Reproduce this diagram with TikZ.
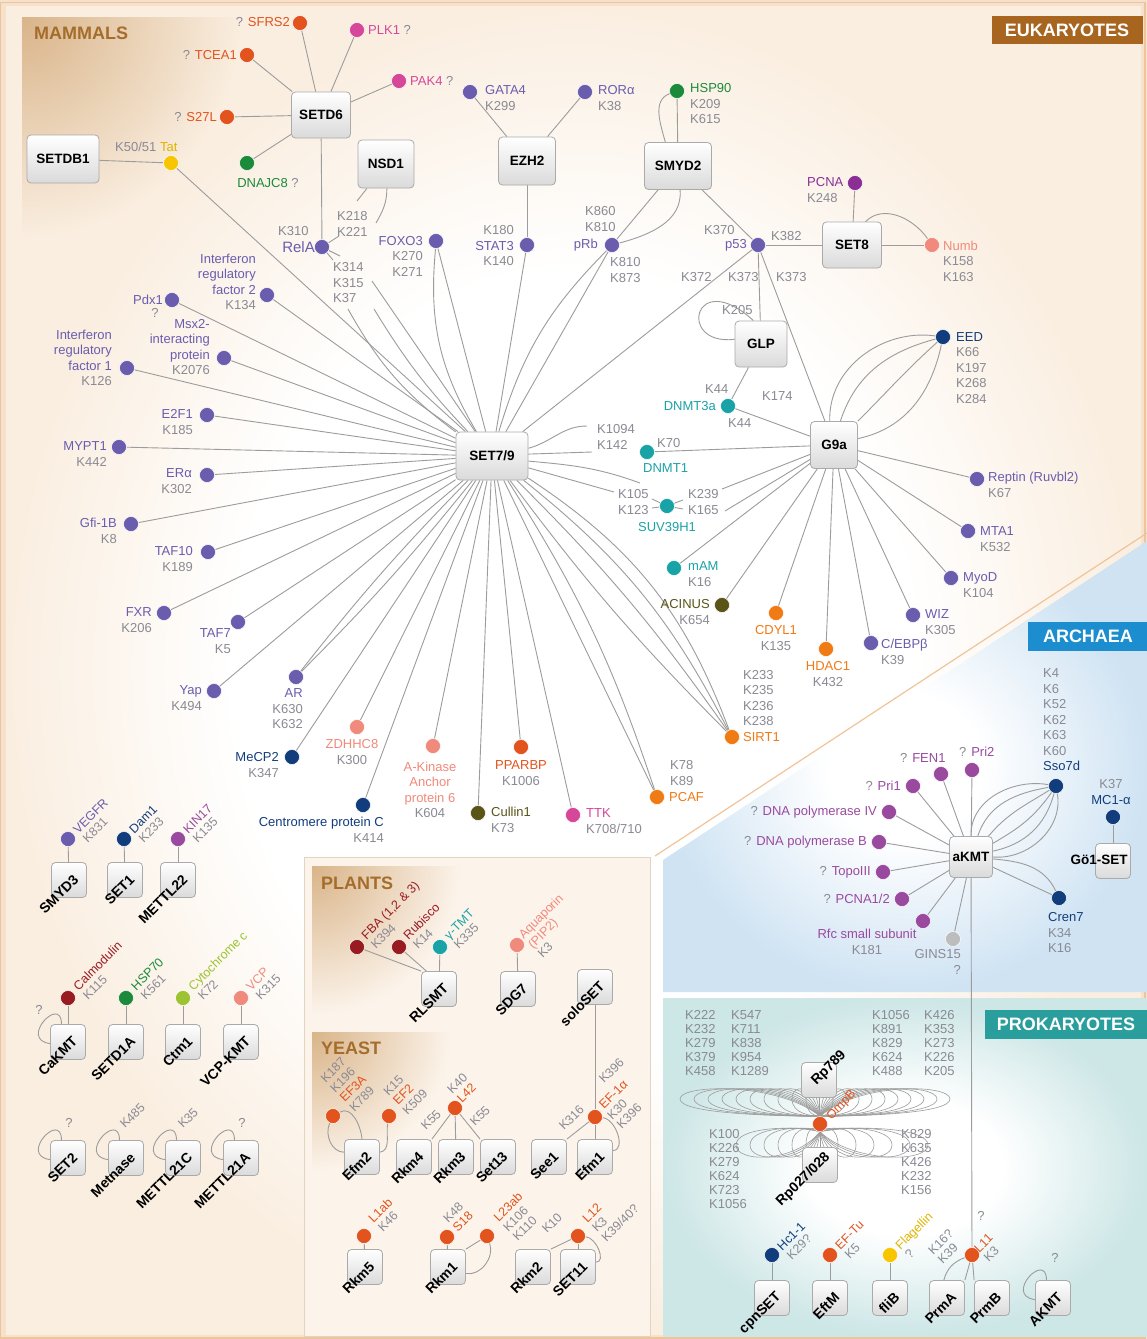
\documentclass[tikz,border=0pt]{standalone}
\usepackage{fontspec}
\setmainfont{Liberation Sans}
\usetikzlibrary{calc}
\pgfdeclarelayer{back}
\pgfdeclarelayer{edges}
\pgfsetlayers{back,edges,main}
\definecolor{bgpe}{HTML}{F6E2CC}
\definecolor{bgin}{HTML}{FAEEE0}
\definecolor{panelc}{HTML}{FCF4EB}
\definecolor{panelbd}{HTML}{E3D3C3}
\definecolor{hdrc}{HTML}{D9B489}
\definecolor{hdrtxt}{HTML}{A46D2C}
\definecolor{brn}{HTML}{A8651F}
\definecolor{ablue}{HTML}{1C8ECF}
\definecolor{pteal}{HTML}{2A9D9D}
\definecolor{edgec}{HTML}{9C9C9C}
\definecolor{kg}{HTML}{8A8A94}
\definecolor{bxd}{HTML}{AAAAAA}
\definecolor{bxf}{HTML}{DADADA}
\definecolor{purp}{HTML}{6A5DAE}
\definecolor{orred}{HTML}{E2531E}
\definecolor{orng}{HTML}{F07A14}
\definecolor{pinkc}{HTML}{D6479A}
\definecolor{grn}{HTML}{1B8A3A}
\definecolor{dblu}{HTML}{123D7D}
\definecolor{tealc}{HTML}{1AA3A6}
\definecolor{salm}{HTML}{F08A7C}
\definecolor{oliv}{HTML}{5A5418}
\definecolor{mag}{HTML}{9A4A9E}
\definecolor{pcnac}{HTML}{8A3095}
\definecolor{yel}{HTML}{F7C600}
\definecolor{yeltx}{HTML}{E0B400}
\definecolor{dred}{HTML}{981B22}
\definecolor{ygr}{HTML}{9DC232}
\definecolor{gdot}{HTML}{BDBDBD}
\definecolor{archc}{HTML}{CFE3F3}
\definecolor{prokc}{HTML}{CDE6E6}
\definecolor{orline}{HTML}{F0C49A}
\pgfdeclareradialshading{bgrad}{\pgfpoint{0bp}{0bp}}{color(0bp)=(white); color(15bp)=(white); color(25bp)=(bgin); color(50bp)=(bgin)}
\pgfdeclareradialshading{archs}{\pgfpoint{0bp}{0bp}}{color(0bp)=(white); color(8bp)=(white); color(25bp)=(archc); color(50bp)=(archc)}
\pgfdeclareradialshading{proks}{\pgfpoint{0bp}{0bp}}{color(0bp)=(white); color(10bp)=(white); color(25bp)=(prokc); color(50bp)=(prokc)}
\tikzset{
 every node/.style={font=\fontsize{13}{15.5}\selectfont, text=kg, inner sep=1pt},
 enz/.style={draw=bxd, line width=0.8pt, rounded corners=4pt, top color=white, bottom color=bxf, text=black, font=\bfseries\fontsize{13.5}{15}\selectfont, inner sep=0pt},
 sb/.style={enz, minimum width=35, minimum height=35},
 dt/.style={circle, fill=#1, draw=white, line width=0.5pt, minimum size=15pt, inner sep=0pt},
 ln/.style={draw=edgec, line width=0.9pt},
 lp/.style={draw=edgec, line width=0.6pt},
 rl/.style={rotate=45, anchor=west, align=left, inner sep=0pt, font=\fontsize{12.5}{13.5}\selectfont},
 bl/.style={rotate=45, anchor=east, text=black, font=\bfseries\fontsize{14}{16}\selectfont, inner sep=0pt},
 hd/.style={text=white, font=\bfseries\fontsize{18}{20}\selectfont, inner sep=0pt},
}
\begin{document}
\begin{tikzpicture}[x=1pt,y=-1pt]
\useasboundingbox (0,0) rectangle (1147,1339);

% ---------------- background ----------------
\begin{pgfonlayer}{back}
\fill[bgpe] (0,0) rectangle (1147,1339);
\shade[shading=bgrad] (6,6) rectangle (1141,1334);
\begin{scope}
\clip (22,17) rectangle (262,237);
\shade[inner color=hdrc, outer color=bgin] (22,17) circle (220pt);
\end{scope}
\draw[orline, line width=1.2pt] (0.6,2.5) rectangle (1145,1338);
% plants / yeast panel
\fill[panelc] (304,857) rectangle (650,1336);
\draw[panelbd, line width=0.8pt] (304,857) rectangle (650,1336);
\begin{scope}
\clip (312,866) rectangle (462,1016);
\shade[inner color=hdrc, outer color=panelc] (312,866) circle (150pt);
\end{scope}
\begin{scope}
\clip (312,1032) rectangle (452,1172);
\shade[inner color=hdrc, outer color=panelc] (312,1032) circle (140pt);
\end{scope}
% archaea
\shade[shading=archs] (663,860) -- (1147,541) -- (1147,992) -- (663,992) -- cycle;
\draw[orline, line width=1.2pt] (655,856) -- (1147,533);
% prokaryotes
\shade[shading=proks] (663,998) rectangle (1147,1336);
\end{pgfonlayer}

% ---------------- headers ----------------
\node[anchor=west, text=hdrtxt, font=\bfseries\fontsize{18}{20}\selectfont] (hm) at (33,33) {MAMMALS};
\node[hd, fill=brn, minimum width=151, minimum height=28] (heuk) at (1067,30) {EUKARYOTES};
\node[hd, fill=ablue, minimum width=120, minimum height=29] (harc) at (1088,636) {ARCHAEA};
\node[hd, fill=pteal, minimum width=162, minimum height=29] (hpro) at (1066,1024) {PROKARYOTES};
\node[anchor=west, text=hdrtxt, font=\bfseries\fontsize{18}{20}\selectfont] (hpl) at (320,883) {PLANTS};
\node[anchor=west, text=hdrtxt, font=\bfseries\fontsize{18}{20}\selectfont] (hye) at (320,1048) {YEAST};

% ---------------- enzymes ----------------
\node[enz, minimum width=72, minimum height=48] (setdb1) at (63,159) {SETDB1};
\node[enz, minimum width=59, minimum height=46] (setd6) at (321,115) {SETD6};
\node[enz, minimum width=56, minimum height=48] (nsd1) at (386,164) {NSD1};
\node[enz, minimum width=57, minimum height=48] (ezh2) at (527,161) {EZH2};
\node[enz, minimum width=67, minimum height=47] (smyd2) at (678,166) {SMYD2};
\node[enz, minimum width=59, minimum height=46] (set8) at (852,245) {SET8};
\node[enz, minimum width=52, minimum height=46] (glp) at (761,344) {GLP};
\node[enz, minimum width=72, minimum height=48] (set79) at (492,456) {SET7/9};
\node[enz, minimum width=47, minimum height=47] (g9a) at (834,445) {G9a};
\node[enz, minimum width=43, minimum height=41] (akmt) at (971,857) {aKMT};
\node[sb] (go1) at (1113,861) {};
\node[text=black, font=\bfseries\fontsize{13.5}{15}\selectfont] (go1t) at (1099,860) {Gö1-SET};

% ---------------- mammal substrates ----------------
\node[dt=orred] (sfrs2) at (300,23) {};
\node[dt=pinkc] (plk1) at (357,30) {};
\node[dt=orred] (tcea1) at (247,55) {};
\node[dt=pinkc] (pak4) at (399,81) {};
\node[dt=orred] (s27l) at (227,117) {};
\node[dt=grn] (dnajc8) at (247,163) {};
\node[dt=yel] (tat) at (171,163) {};
\node[dt=purp] (rela) at (322,247) {};
\node[dt=purp] (foxo3) at (436,241) {};
\node[dt=purp] (gata4) at (470,92) {};
\node[dt=purp] (rora) at (585,92) {};
\node[dt=grn] (hsp90) at (677,91) {};
\node[dt=purp] (stat3) at (527,245) {};
\node[dt=purp] (prb) at (612,245) {};
\node[dt=purp] (p53) at (758,245) {};
\node[dt=pcnac] (pcna) at (855,183) {};
\node[dt=salm] (numb) at (932,245) {};
\node[dt=purp] (irf2) at (267,295) {};
\node[dt=purp] (pdx1) at (172,300) {};
\node[dt=purp] (msx2) at (224,358) {};
\node[dt=purp] (irf1) at (127,368) {};
\node[dt=purp] (e2f1) at (207,415) {};
\node[dt=purp] (mypt1) at (119,447) {};
\node[dt=purp] (era) at (207,475) {};
\node[dt=purp] (gfi) at (131,524) {};
\node[dt=purp] (taf10) at (208,552) {};
\node[dt=purp] (fxr) at (164,613) {};
\node[dt=purp] (taf7) at (238,622) {};
\node[dt=purp] (yap) at (214,691) {};
\node[dt=purp] (ar) at (296,677) {};
\node[dt=dblu] (mecp2) at (292,757) {};
\node[dt=salm] (zdhhc8) at (357,727) {};
\node[dt=dblu] (cenpc) at (363,805) {};
\node[dt=salm] (akap6) at (433,746) {};
\node[dt=oliv] (cullin) at (478,813) {};
\node[dt=orred] (pparbp) at (521,747) {};
\node[dt=pinkc] (ttk) at (573,815) {};
\node[dt=orng] (pcaf) at (657,797) {};
\node[dt=orng] (sirt1) at (732,737) {};
\node[dt=tealc] (dnmt3a) at (728,406) {};
\node[dt=tealc] (dnmt1) at (647,452) {};
\node[dt=tealc] (suv) at (667,506) {};
\node[dt=tealc] (mam) at (674,568) {};
\node[dt=oliv] (acinus) at (722,605) {};
\node[dt=orng] (cdyl1) at (776,613) {};
\node[dt=orng] (hdac1) at (826,649) {};
\node[dt=purp] (cebpb) at (871,643) {};
\node[dt=purp] (wiz) at (913,615) {};
\node[dt=purp] (myod) at (951,578) {};
\node[dt=purp] (mta1) at (968,531) {};
\node[dt=purp] (reptin) at (977,479) {};
\node[dt=dblu] (eed) at (943,337) {};

% mammal labels
\node[anchor=east] (t1) at (291,22) {? \textcolor{orred}{SFRS2}};
\node[anchor=west] (t2) at (367,30) {\textcolor{pinkc}{PLK1} ?};
\node[anchor=east] (t3) at (238,55) {? \textcolor{orred}{TCEA1}};
\node[anchor=west] (t4) at (409,81) {\textcolor{pinkc}{PAK4} ?};
\node[anchor=east] (t5) at (218,117) {? \textcolor{orred}{S27L}};
\node (t6) at (268,183) {\textcolor{grn}{DNAJC8} ?};
\node[anchor=west] (t7) at (114,147) {K50/51 \textcolor{yeltx}{Tat}};
\node[anchor=east, text=purp, font=\fontsize{15}{17}\selectfont] (t8) at (316,247) {RelA};
\node[anchor=west] (t9) at (277,231) {K310};
\node[anchor=west, align=left] (t10) at (336,224) {K218\\K221};
\node[anchor=west, align=left] (t11) at (332,283) {K314\\K315\\K37};
\node[anchor=east, align=right] (t12) at (424,256) {\textcolor{purp}{FOXO3}\\K270\\K271};
\node[anchor=west, align=left] (t13) at (484,98) {\textcolor{purp}{GATA4}\\K299};
\node[anchor=west, align=left] (t14) at (597,98) {\textcolor{purp}{RORα}\\K38};
\node[anchor=west, align=left] (t15) at (689,104) {\textcolor{grn}{HSP90}\\K209\\K615};
\node[anchor=east, align=right] (t16) at (515,246) {K180\\\textcolor{purp}{STAT3}\\K140};
\node[anchor=east, text=purp] (t17) at (599,245) {pRb};
\node[anchor=west, align=left] (t18) at (584,219) {K860\\K810};
\node[anchor=west, align=left] (t19) at (609,270) {K810\\K873};
\node[anchor=east, text=purp] (t20) at (748,245) {p53};
\node[anchor=west] (t21) at (703,230) {K370};
\node[anchor=west] (t22) at (770,236) {K382};
\node[anchor=west] (t23) at (680,277) {K372};
\node[anchor=west] (t24) at (727,277) {K373};
\node[anchor=west] (t25) at (775,277) {K373};
\node[anchor=west, align=left] (t26) at (806,190) {\textcolor{pcnac}{PCNA}\\K248};
\node[anchor=west, align=left] (t27) at (942,261) {\textcolor{salm}{Numb}\\K158\\K163};
\node[anchor=west] (t28) at (721,310) {K205};
\node[anchor=east, text=tealc] (t29) at (717,406) {DNMT3a};
\node[anchor=west] (t30) at (704,389) {K44};
\node[anchor=west] (t31) at (727,423) {K44};
\node[anchor=west, align=left] (t32) at (596,437) {K1094\\K142};
\node[anchor=west] (t33) at (656,443) {K70};
\node[anchor=west, text=tealc] (t34) at (642,468) {DNMT1};
\node[anchor=west, align=left] (t35) at (617,502) {K105\\K123};
\node[anchor=west, align=left] (t36) at (687,502) {K239\\K165};
\node[text=tealc] (t37) at (667,527) {SUV39H1};
\node[anchor=west, align=left] (t38) at (687,574) {\textcolor{tealc}{mAM}\\K16};
\node[anchor=east, align=right] (t39) at (711,612) {\textcolor{oliv}{ACINUS}\\K654};
\node[anchor=west] (t40) at (761,396) {K174};
\node[anchor=west, align=left] (t41) at (955,368) {\textcolor{dblu}{EED}\\K66\\K197\\K268\\K284};
\node[anchor=west, align=left] (t42) at (987,485) {\textcolor{purp}{Reptin (Ruvbl2)}\\K67};
\node[anchor=west, align=left] (t43) at (979,539) {\textcolor{purp}{MTA1}\\K532};
\node[anchor=west, align=left] (t44) at (962,585) {\textcolor{purp}{MyoD}\\K104};
\node[anchor=west, align=left] (t45) at (924,622) {\textcolor{purp}{WIZ}\\K305};
\node[anchor=west, align=left] (t46) at (880,652) {\textcolor{purp}{C/EBPβ}\\K39};
\node[align=center] (t47) at (828,674) {\textcolor{orng}{HDAC1}\\K432};
\node[align=center] (t48) at (776,638) {\textcolor{orng}{CDYL1}\\K135};
\node[anchor=west, align=left] (t49) at (742,698) {K233\\K235\\K236\\K238};
\node[anchor=west, text=orng] (t50) at (742,737) {SIRT1};
\node[anchor=west, align=left] (t51) at (669,773) {K78\\K89};
\node[anchor=west, text=orng] (t52) at (668,797) {PCAF};
\node[anchor=west, align=left] (t53) at (585,821) {\textcolor{pinkc}{TTK}\\K708/710};
\node[anchor=west, align=left] (t54) at (490,820) {\textcolor{oliv}{Cullin1}\\K73};
\node[align=center] (t55) at (521,773) {\textcolor{orred}{PPARBP}\\K1006};
\node[align=center, text=salm] (t56) at (430,790) {A-Kinase\\Anchor\\protein 6\\\textcolor{kg}{K604}};
\node[anchor=east, align=right] (t57) at (385,830) {\textcolor{dblu}{Centromere protein C}\\K414};
\node[align=center] (t58) at (352,752) {\textcolor{salm}{ZDHHC8}\\K300};
\node[anchor=east, align=right] (t59) at (280,765) {\textcolor{dblu}{MeCP2}\\K347};
\node[anchor=east, align=right] (t60) at (304,709) {\textcolor{purp}{AR}\\K630\\K632};
\node[anchor=east, align=right] (t61) at (203,698) {\textcolor{purp}{Yap}\\K494};
\node[anchor=east, align=right] (t62) at (232,641) {\textcolor{purp}{TAF7}\\K5};
\node[anchor=east, align=right] (t63) at (153,620) {\textcolor{purp}{FXR}\\K206};
\node[anchor=east, align=right] (t64) at (194,559) {\textcolor{purp}{TAF10}\\K189};
\node[anchor=east, align=right] (t65) at (118,531) {\textcolor{purp}{Gfi-1B}\\K8};
\node[anchor=east, align=right] (t66) at (193,481) {\textcolor{purp}{ERα}\\K302};
\node[anchor=east, align=right] (t67) at (108,454) {\textcolor{purp}{MYPT1}\\K442};
\node[anchor=east, align=right] (t68) at (194,422) {\textcolor{purp}{E2F1}\\K185};
\node[anchor=east, align=right, text=purp] (t69) at (113,358) {Interferon\\regulatory\\factor 1\\\textcolor{kg}{K126}};
\node[anchor=east, align=right, text=purp] (t70) at (211,347) {Msx2-\\interacting\\protein\\\textcolor{kg}{K2076}};
\node[anchor=east, text=purp] (t71) at (164,300) {Pdx1};
\node (t72) at (155,313) {?};
\node[anchor=east, align=right, text=purp] (t73) at (257,282) {Interferon\\regulatory\\factor 2\\\textcolor{kg}{K134}};

% ---------------- lower-left mammal boxes ----------------
\node[sb] (smyd3) at (69,880) {};
\node[sb] (set1) at (125,880) {};
\node[sb] (mettl22) at (178,880) {};
\node[dt=purp] (vegfr) at (68,839) {};
\node[dt=dblu] (dam1) at (124,839) {};
\node[dt=mag] (kin17) at (178,839) {};
\node[sb] (cakmt) at (68,1042) {};
\node[sb] (setd1a) at (126,1042) {};
\node[sb] (ctm1) at (183,1042) {};
\node[sb] (vcpkmt) at (241,1042) {};
\node[dt=dred] (calm) at (68,998) {};
\node[dt=grn] (hsp70) at (126,998) {};
\node[dt=ygr] (cytc) at (183,998) {};
\node[dt=salm] (vcp) at (241,998) {};
\node[sb] (set2) at (68,1158) {};
\node[sb] (metnase) at (126,1158) {};
\node[sb] (mettl21c) at (183,1158) {};
\node[sb] (mettl21a) at (241,1158) {};
\node[rl] (t80) at (80,836) {\textcolor{purp}{VEGFR}\\K831};
\node[rl] (t81) at (136,836) {\textcolor{dblu}{Dam1}\\K233};
\node[rl] (t82) at (190,836) {\textcolor{mag}{KIN17}\\K135};
\node[rl] (t83) at (80,993) {\textcolor{dred}{Calmodulin}\\K115};
\node[rl] (t84) at (138,993) {\textcolor{grn}{HSP70}\\K561};
\node[rl] (t85) at (195,993) {\textcolor{ygr}{Cytochrome c}\\K72};
\node[rl] (t86) at (253,993) {\textcolor{salm}{VCP}\\K315};
\node (t87) at (39,1010) {?};
\node (t88) at (69,1123) {?};
\node[rl] (t89) at (122,1126) {K485};
\node[rl] (t90) at (180,1126) {K35};
\node (t91) at (242,1123) {?};

% ---------------- plants / yeast ----------------
\node[sb] (rlsmt) at (439,989) {};
\node[sb] (sdg7) at (518,989) {};
\node[sb] (soloset) at (595,987) {};
\node[dt=dred] (fba) at (357,947) {};
\node[dt=dred] (rubisco) at (399,947) {};
\node[dt=tealc] (gtmt) at (440,947) {};
\node[dt=salm] (aqp) at (517,945) {};
\node[sb] (efm2) at (362,1157) {};
\node[sb] (rkm4) at (414,1157) {};
\node[sb] (rkm3) at (456,1157) {};
\node[sb] (set13) at (498,1157) {};
\node[sb] (see1) at (549,1157) {};
\node[sb] (efm1) at (595,1157) {};
\node[dt=orred] (ef3a) at (333,1116) {};
\node[dt=orred] (ef2) at (389,1116) {};
\node[dt=orred] (l42) at (455,1108) {};
\node[dt=orred] (ef1a) at (595,1117) {};
\node[sb] (rkm5) at (365,1267) {};
\node[sb] (rkm1) at (448,1267) {};
\node[sb] (rkm2) at (533,1267) {};
\node[sb] (set11) at (578,1267) {};
\node[dt=orred] (l1ab) at (364,1236) {};
\node[dt=orred] (s18) at (447,1237) {};
\node[dt=orred] (l23ab) at (487,1236) {};
\node[dt=orred] (l12) at (578,1236) {};
\node[rl] (t100) at (368,942) {\textcolor{dred}{FBA (1,2 \& 3)}\\K394};
\node[rl] (t101) at (410,942) {\textcolor{dred}{Rubisco}\\K14};
\node[rl] (t102) at (451,942) {\textcolor{tealc}{γ-TMT}\\K335};
\node[rl] (t103) at (530,946) {\textcolor{salm}{Aquaporin}\\\textcolor{salm}{(PIP2)}\\K3};
\node[rl] (t104) at (601,1081) {K396};
\node[rl] (t105) at (337,1095) {K187\\K196\\\textcolor{orred}{EF3A}\\K789};
\node[rl] (t106) at (395,1103) {K15\\\textcolor{orred}{EF2}\\K509};
\node[rl] (t107) at (454,1096) {K40\\\textcolor{orred}{L42}};
\node[rl] (t108) at (423,1128) {K55};
\node[rl] (t109) at (472,1124) {K55};
\node[rl] (t110) at (601,1107) {\textcolor{orred}{EF-1α}};
\node[rl] (t111) at (614,1122) {K30\\K396};
\node[rl] (t112) at (561,1128) {K316};
\node[rl] (t113) at (375,1225) {\textcolor{orred}{L1ab}\\K46};
\node[rl] (t114) at (450,1225) {K48\\\textcolor{orred}{S18}};
\node[rl] (t115) at (505,1229) {\textcolor{orred}{L23ab}\\K106\\K110};
\node[rl] (t116) at (594,1230) {\textcolor{orred}{L12}\\K3\\K39/40?};
\node[rl] (t117) at (544,1231) {K10};

% ---------------- archaea ----------------
\node[dt=mag] (pri2) at (972,770) {};
\node[dt=mag] (fen1) at (941,774) {};
\node[dt=mag] (pri1) at (913,786) {};
\node[dt=mag] (polIV) at (889,812) {};
\node[dt=mag] (polB) at (879,842) {};
\node[dt=mag] (topo) at (883,872) {};
\node[dt=mag] (pcna12) at (902,899) {};
\node[dt=mag] (rfc) at (923,921) {};
\node[dt=gdot] (gins) at (953,939) {};
\node[dt=dblu] (sso7d) at (1056,786) {};
\node[dt=dblu] (mc1a) at (1113,817) {};
\node[dt=dblu] (cren7) at (1059,898) {};
\node[anchor=west] (t120) at (958,752) {? \textcolor{mag}{Pri2}};
\node[anchor=west] (t121) at (899,758) {? \textcolor{mag}{FEN1}};
\node[anchor=east] (t122) at (902,786) {? \textcolor{mag}{Pri1}};
\node[anchor=east] (t123) at (878,812) {? \textcolor{mag}{DNA polymerase IV}};
\node[anchor=east] (t124) at (868,842) {? \textcolor{mag}{DNA polymerase B}};
\node[anchor=east] (t125) at (872,872) {? \textcolor{mag}{TopoIII}};
\node[anchor=east] (t126) at (891,899) {? \textcolor{mag}{PCNA1/2}};
\node[align=center] (t127) at (867,942) {\textcolor{mag}{Rfc small subunit}\\K181};
\node[anchor=east, align=right] (t128) at (962,962) {GINS15\\?};
\node[anchor=west, align=left] (t129) at (1042,720) {K4\\K6\\K52\\K62\\K63\\K60\\\textcolor{dblu}{Sso7d}};
\node[align=center] (t130) at (1111,792) {K37\\\textcolor{dblu}{MC1-α}};
\node[anchor=west, align=left] (t131) at (1047,933) {\textcolor{dblu}{Cren7}\\K34\\K16};

% ---------------- prokaryotes ----------------
\node[sb] (rp789) at (819,1080) {};
\node[sb] (rp027) at (820,1165) {};
\node[dt=orred] (ompb) at (820,1124) {};
\node[sb] (cpnset) at (772,1298) {};
\node[sb] (eftm) at (830,1298) {};
\node[sb] (flib) at (890,1298) {};
\node[sb] (prma) at (947,1298) {};
\node[sb] (prmb) at (992,1298) {};
\node[sb] (akmt2) at (1053,1298) {};
\node[dt=dblu] (hc11) at (772,1255) {};
\node[dt=orred] (eftu) at (830,1255) {};
\node[dt=yel] (flag) at (890,1255) {};
\node[dt=orred] (l11) at (972,1255) {};
\begin{scope}[every node/.append style={font=\fontsize{13}{14}\selectfont}]
\node[anchor=west, align=left] (t140) at (684,1043) {K222\\K232\\K279\\K379\\K458};
\node[anchor=west, align=left] (t141) at (730,1043) {K547\\K711\\K838\\K954\\K1289};
\node[anchor=west, align=left] (t142) at (871,1043) {K1056\\K891\\K829\\K624\\K488};
\node[anchor=west, align=left] (t143) at (923,1043) {K426\\K353\\K273\\K226\\K205};
\node[anchor=west, align=left] (t144) at (708,1169) {K100\\K226\\K279\\K624\\K723\\K1056};
\node[anchor=west, align=left] (t145) at (900,1162) {K829\\K635\\K426\\K232\\K156};
\end{scope}
\node[rl] (t146) at (829,1118) {\textcolor{orred}{OmpB}};
\node[rl] (t147) at (784,1253) {\textcolor{dblu}{Hc1-1}\\K29?};
\node[rl] (t148) at (842,1252) {\textcolor{orred}{EF-Tu}\\K5};
\node[rl] (t149) at (902,1252) {\textcolor{yeltx}{Flagellin}\\?};
\node[rl] (t150) at (981,1255) {\textcolor{orred}{L11}\\K3};
\node (t151) at (981,1216) {?};
\node[rl] (t152) at (935,1257) {K16?\\K39};
\node (t153) at (1055,1258) {?};

% box labels (rotated)
\foreach \n/\t in {smyd3/SMYD3, set1/SET1, mettl22/METTL22, cakmt/CaKMT, setd1a/SETD1A, ctm1/Ctm1, vcpkmt/VCP-KMT, set2/SET2, metnase/Metnase, mettl21c/METTL21C, mettl21a/METTL21A, rlsmt/RLSMT, sdg7/SDG7, soloset/soloSET, efm2/Efm2, rkm4/Rkm4, rkm3/Rkm3, set13/Set13, see1/See1, efm1/Efm1, rkm5/Rkm5, rkm1/Rkm1, rkm2/Rkm2, set11/SET11, cpnset/cpnSET, eftm/EftM, flib/fliB, prma/PrmA, prmb/PrmB, akmt2/AKMT}
  \node[bl] (b\n) at ($(\n)+(7,-3)$) {\t};
\node[bl, anchor=west] (brp789) at ($(rp789)+(-5,3)$) {Rp789};
\node[bl] (brp027) at ($(rp027)+(8,-10)$) {Rp027/028};

% ---------------- connectors ----------------
\begin{pgfonlayer}{edges}
\draw[ln] (setdb1) -- (tat);
\draw[ln] (tat) -- (set79);
\foreach \n in {sfrs2,plk1,tcea1,pak4,s27l,dnajc8,rela} \draw[ln] (setd6) -- (\n);
\coordinate (n1) at (357,201);
\coordinate (n2) at (376,223);
\draw[ln] (nsd1.-128) -- (n1);
\draw[ln] (nsd1.-88) to[out=-90,in=60] (n2);
\coordinate (n3) at (339,236);
\coordinate (n4) at (333,260);
\coordinate (n5) at (340,256);
\draw[ln] (rela) -- (n3);
\draw[ln] (rela) -- (n4);
\draw[ln] (rela) -- (n5);
\coordinate (r1) at (348,309);
\coordinate (r2) at (372,281);
\coordinate (r3) at (374,309);
\draw[ln] (r1) to[bend right=12] (set79);
\draw[ln] (r2) -- (set79);
\draw[ln] (r3) to[bend right=6] (set79);
\draw[ln] (foxo3) to[bend right=18] (set79);
\draw[ln] (foxo3) -- (set79);
\foreach \n in {gata4,rora,stat3} \draw[ln] (ezh2) -- (\n);
\draw[ln] (stat3) -- (set79);
\draw[ln] (smyd2) -- (hsp90);
\draw[ln] (smyd2.118) to[out=105,in=200] (hsp90);
\draw[ln] (smyd2) -- (prb);
\draw[ln] (smyd2.-85) to[out=-85,in=15] (prb);
\draw[ln] (smyd2) -- (p53);
\draw[ln] (prb) -- (set79);
\draw[ln] (prb) to[bend right=14] (set79);
\draw[ln] (p53) -- (set79);
\draw[ln] (p53) -- (glp);
\draw[ln] (p53) -- (g9a);
\draw[ln] (set8) -- (p53);
\draw[ln] (set8) -- (pcna);
\draw[ln] (set8) -- (numb);
\draw[ln] (set8.60) to[out=45,in=125] (numb);
\draw[ln] (glp.170) .. controls (676,346) and (694,266) .. (glp.108);
\draw[ln] (glp) -- (dnmt3a);
\draw[ln] (dnmt3a) -- (g9a);
\draw[ln] (dnmt1) -- (g9a);
\coordinate (d1) at (587,426);
\coordinate (d2) at (592,452);
\draw[ln] (set79.12) to[out=15,in=180] (d1);
\draw[ln] (set79.3) -- (d2);
\coordinate (u1) at (614,492);
\coordinate (u2) at (640,483);
\draw[ln] (set79.-18) -- (u1);
\draw[ln] (set79.-8) to[out=-5,in=160] (u2);
\coordinate (u3) at (652,499);
\coordinate (u4) at (652,508);
\coordinate (u7) at (683,500);
\coordinate (u8) at (683,509);
\draw[ln] (suv) -- (u3);
\draw[ln] (suv) -- (u4);
\draw[ln] (suv) -- (u7);
\draw[ln] (suv) -- (u8);
\coordinate (u5) at (722,489);
\coordinate (u6) at (725,511);
\draw[ln] (g9a) -- (u5);
\draw[ln] (g9a) -- (u6);
\foreach \n in {cdyl1,hdac1,cebpb,wiz,myod,mta1,reptin,acinus,mam} \draw[ln] (g9a) -- (\n);
\draw[ln] (g9a.100) to[out=92,in=172] (eed);
\draw[ln] (g9a.75) to[out=72,in=195] (eed);
\draw[ln] (g9a.45) to[out=45,in=222] (eed);
\draw[ln] (g9a.15) to[out=12,in=258] (eed);
\foreach \n in {irf2,pdx1,msx2,irf1,e2f1,mypt1,era,gfi,taf10,fxr,taf7,yap,mecp2,zdhhc8,cenpc,akap6,cullin,pparbp,ttk} \draw[ln] (set79) -- (\n);
\draw[ln] (set79) to[bend left=3] (ar);
\draw[ln] (set79) to[bend right=3] (ar);
\draw[ln] (set79) -- (pcaf);
\draw[ln] (set79) to[bend left=7] (pcaf);
\draw[ln] (set79) to[bend right=4] (sirt1);
\draw[ln] (set79) to[bend left=5] (sirt1);
\draw[ln] (set79) to[bend left=12] (sirt1);
\draw[ln] (set79) to[bend left=18] (sirt1);
% lower-left mammals
\foreach \a/\b in {vegfr/smyd3, dam1/set1, kin17/mettl22, calm/cakmt, hsp70/setd1a, cytc/ctm1, vcp/vcpkmt} \draw[ln] (\a) -- (\b);
\foreach \b in {cakmt,set2,metnase,mettl21c,mettl21a,akmt2} \draw[ln] (\b.110) .. controls +(0,-30) and +(-32,-4) .. (\b.185);
% plants / yeast
\draw[ln] (fba) -- (rlsmt.north west);
\draw[ln] (rubisco) -- (rlsmt.125);
\draw[ln] (gtmt) -- (rlsmt);
\draw[ln] (aqp) -- (sdg7);
\draw[ln] (soloset) -- (ef1a);
\draw[ln] (ef1a) -- (see1.north east);
\draw[ln] (ef1a) -- (efm1);
\draw[ln] (ef1a) to[out=-5,in=0] (efm1.20);
\draw[ln] (ef3a) to[out=-115,in=180] (efm2.165);
\draw[ln] (ef3a) to[out=30,in=95] (efm2.north);
\draw[ln] (ef2) to[out=-100,in=10] (efm2.15);
\draw[ln] (l42) -- (rkm4.north east);
\draw[ln] (l42) -- (rkm3);
\draw[ln] (l42) -- (set13.north west);
\draw[ln] (l1ab) -- (rkm5);
\draw[ln] (s18) -- (rkm1);
\draw[ln] (l23ab) -- (rkm1.north east);
\draw[ln] (l23ab) to[out=-70,in=-10] (rkm1.-20);
\draw[ln] (l12) -- (rkm2.north east);
\draw[ln] (l12) -- (set11);
\draw[ln] (l12) to[out=-5,in=0] (set11.15);
% archaea
\foreach \n in {pri2,fen1,pri1,polIV,polB,topo,pcna12,rfc,gins} \draw[ln] (akmt) -- (\n);
\foreach \s/\o/\i in {90/92/170, 72/72/190, 50/50/212, 32/30/235, 15/12/255, 0/-5/280} \draw[ln] (akmt.\s) to[out=\o,in=\i] (sso7d);
\draw[ln] (akmt) -- (cren7);
\draw[ln] (akmt.-5) to[out=-5,in=115] (cren7);
\draw[ln] (go1) -- (mc1a);
\draw[ln] (akmt) -- (l11);
% prokaryotes
\draw[ln] (rp789) -- (ompb);
\draw[ln] (ompb) -- (rp027);
\foreach \w in {14,28,...,142} \draw[lp] (ompb.north) .. controls ({820-0.3*\w},1082) and ({820-\w},1084) .. ({820-\w},1099) .. controls ({820-\w},1114) and ({820-0.3*\w},1116) .. (ompb.north);
\foreach \w in {13,26,...,130} \draw[lp] (ompb.north) .. controls ({820+0.3*\w},1082) and ({820+\w},1084) .. ({820+\w},1099) .. controls ({820+\w},1114) and ({820+0.3*\w},1116) .. (ompb.north);
\foreach \w in {14,28,...,84} \draw[lp] (ompb.south) .. controls ({820-0.3*\w},1125) and ({820-\w},1127) .. ({820-\w},1145) .. controls ({820-\w},1163) and ({820-0.3*\w},1163) .. (ompb.south);
\foreach \w in {18,36,...,108} \draw[lp] (ompb.south) .. controls ({820+0.3*\w},1125) and ({820+\w},1127) .. ({820+\w},1145) .. controls ({820+\w},1163) and ({820+0.3*\w},1163) .. (ompb.south);
\draw[ln] (hc11) -- (cpnset);
\draw[ln] (eftu) -- (eftm);
\draw[ln] (flag) -- (flib);
\draw[ln] (l11) -- (prma.north east);
\draw[ln] (l11) to[out=200,in=75] (prma.100);
\draw[ln] (l11) -- (prmb.north west);
\end{pgfonlayer}
\end{tikzpicture}
\end{document}
